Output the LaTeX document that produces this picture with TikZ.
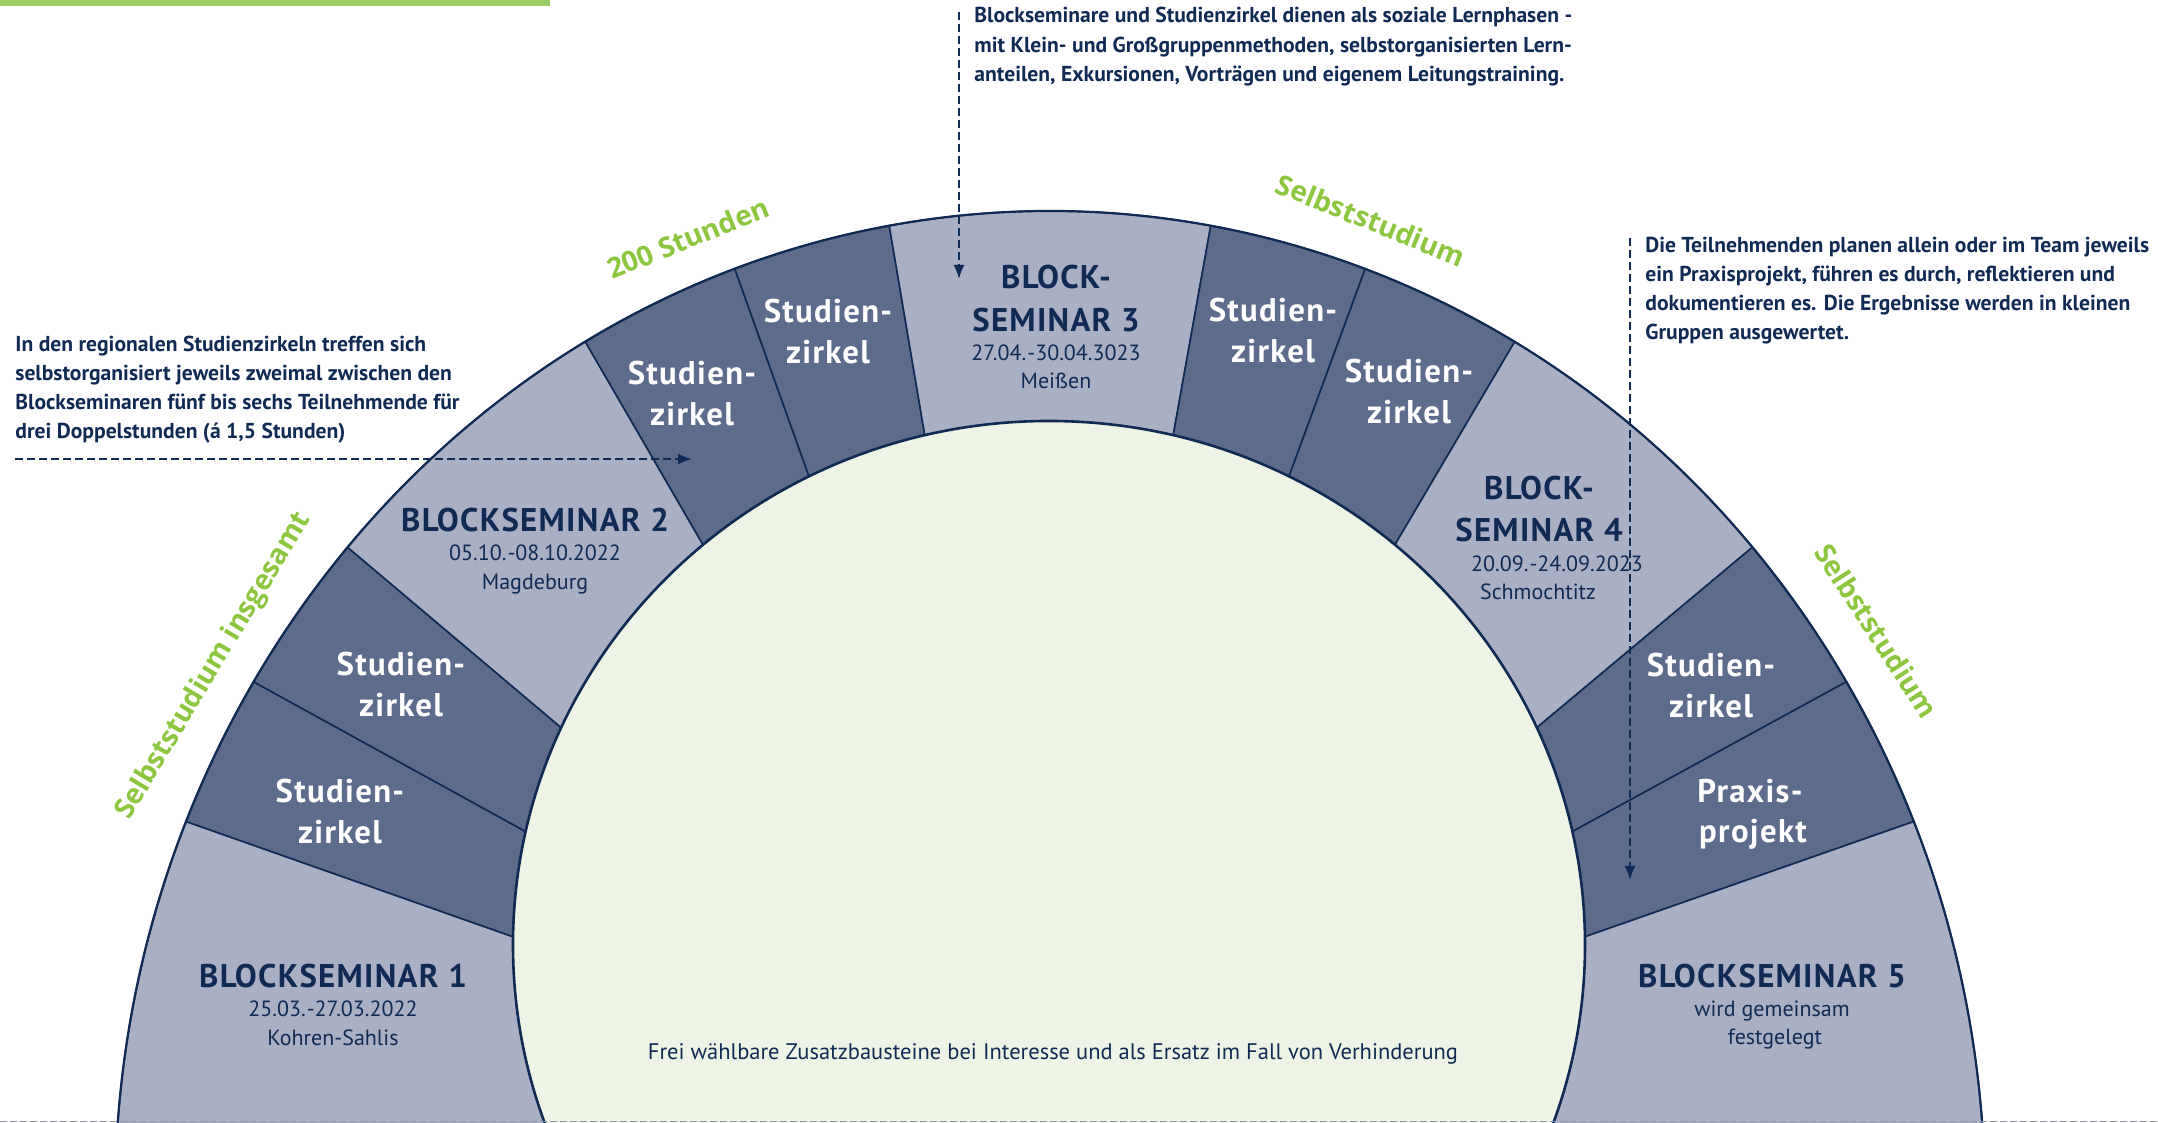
\documentclass[tikz,border=0pt]{standalone}
\usepackage{fontspec}
\setmainfont{PT Sans}
\newfontfamily\greenfont{Open Sans}
\usepackage{tikz}
\usetikzlibrary{arrows.meta}
\definecolor{navy}{HTML}{102A54}
\definecolor{segdark}{HTML}{5D6B8C}
\definecolor{seglight}{HTML}{A9AFC5}
\definecolor{innergreen}{HTML}{EDF3E5}
\definecolor{labelgreen}{HTML}{8DC63F}
\definecolor{bargreen}{HTML}{9BCB64}
\definecolor{dashgray}{HTML}{8E9AB5}
\tikzstyle{hintarrow} = [navy, line width=1pt, dash pattern=on 4pt off 2pt, -{Latex[length=7pt,width=5.5pt]}]

\begin{document}
\begin{tikzpicture}[x=0.5pt, y=0.5pt,
    every node/.style={inner sep=0pt, anchor=base},
    blocktitle/.style={text=navy, font=\bfseries\fontsize{16.4}{20}\selectfont\addfontfeatures{LetterSpace=4}},
    blockinfo/.style={text=navy, font=\fontsize{11}{14}\selectfont},
    zirkel/.style={text=white, font=\bfseries\fontsize{16.4}{20}\selectfont\addfontfeatures{LetterSpace=4}},
    hint/.style={text=navy, anchor=base west, font=\bfseries\fontsize{10.8}{14}\selectfont},
    greenlabel/.style={text=labelgreen, anchor=center, font=\greenfont\bfseries\fontsize{14}{16}\selectfont}]

    \useasboundingbox (0,0) rectangle (2158,1123);

    % centres of the two ellipses
    \coordinate (outerc) at (1050,-77);
    \coordinate (innerc) at (1049,178);

    \begin{scope}
        \clip (0,0) rectangle (2158,1123);

        % Draw the segments of the arch
        \foreach \col/\oa/\ob/\ia/\ib in {seglight/185/157.5/215/179.1, segdark/157.5/148.4/179.1/167.5,
                segdark/148.4/138.7/167.5/155.5, seglight/138.7/119.8/155.5/130.2,
                segdark/119.8/109.7/130.2/116.6, segdark/109.7/99.9/116.6/103.4,
                seglight/99.9/80.1/103.4/76.6, segdark/80.1/70.3/76.6/63.4,
                segdark/70.3/60.2/63.4/49.8, seglight/60.2/41.3/49.8/24.5,
                segdark/41.3/31.6/24.5/12.5, segdark/31.6/22.5/12.5/0.9,
                seglight/22.5/-5/0.9/-35} {
            \filldraw[fill=\col, draw=navy, line width=0.8pt]
                ([shift={(outerc)}]\oa:935 and 989) arc[start angle=\oa, end angle=\ob, x radius=935, y radius=989]
                -- ([shift={(innerc)}]\ib:536 and 524) arc[start angle=\ib, end angle=\ia, x radius=536, y radius=524]
                -- cycle;
        }

        % inner field and outer rim
        \filldraw[fill=innergreen, draw=navy, line width=1.3pt] (innerc) ellipse [x radius=536, y radius=524];
        \draw[navy, line width=1.1pt] ([shift={(outerc)}]185:935 and 989) arc[start angle=185, end angle=-5, x radius=935, y radius=989];
    \end{scope}

    % bars at top and bottom
    \fill[bargreen] (0,1117) rectangle (550,1123);
    \draw[dashgray, line width=0.7pt, dash pattern=on 3.3pt off 1.7pt] (0,1.5) -- (2158,1.5);

    % Define nodes: block seminars
    \node[blocktitle] (bs1) at (333,135) {BLOCKSEMINAR 1};
    \node[blockinfo] (bs1date) at (333,106) {25.03.\kern.5pt-27.03.2022};
    \node[blockinfo] (bs1place) at (333,77.5) {Kohren-Sahlis};

    \node[blocktitle] (bs2) at (535,591) {BLOCKSEMINAR 2};
    \node[blockinfo] (bs2date) at (535,562) {05.10.\kern.5pt-08.10.2022};
    \node[blockinfo] (bs2place) at (535,533) {Magdeburg};

    \node[blocktitle] (bs3a) at (1056,834) {BLOCK-};
    \node[blocktitle] (bs3b) at (1056,791) {SEMINAR 3};
    \node[blockinfo] (bs3date) at (1056,762) {27.04.\kern.5pt-30.04.3023};
    \node[blockinfo] (bs3place) at (1056,734) {Meißen};

    \node[blocktitle] (bs4a) at (1539,623) {BLOCK-};
    \node[blocktitle] (bs4b) at (1539,581) {SEMINAR 4};
    \node[blockinfo] (bs4date) at (1557,551) {20.09.\kern.5pt-24.09.2023};
    \node[blockinfo] (bs4place) at (1538,523) {Schmochtitz};

    \node[blocktitle] (bs5) at (1772,135) {BLOCKSEMINAR 5};
    \node[blockinfo] (bs5line) at (1772,106) {wird gemeinsam};
    \node[blockinfo] (bs5place) at (1775,78) {festgelegt};

    % study circles
    \foreach \n/\x/\y in {1/340/320, 2/401/447, 3/692/738, 4/828/800, 5/1273/801, 6/1409/740, 7/1711/446} {
        \node[zirkel] (zk\n-top) at (\x,\y) {Studien-};
        \node[zirkel] (zk\n-bot) at (\x,\y-41) {zirkel};
    }
    \node[zirkel] (praxis-top) at (1750,320) {Praxis-};
    \node[zirkel] (praxis-bot) at (1753,280) {projekt};

    \node[blockinfo, font=\fontsize{11.25}{14}\selectfont] (frei) at (1053,63) {Frei wählbare Zusatzbausteine bei Interesse und als Ersatz im Fall von Verhinderung};

    % green labels round the arch
    \node[greenlabel, rotate=59] (insgesamt) at (214,457) {Selbststudium insgesamt};
    \node[greenlabel, rotate=22] (stunden) at (688,885) {200 Stunden};
    \node[greenlabel, rotate=-22] (selbst1) at (1371,903) {Selbststudium};
    \node[greenlabel, rotate=-57] (selbst2) at (1877,492) {Selbststudium};

    % notes
    \node[hint] (top1) at (974,1100) {Blockseminare und Studienzirkel dienen als soziale Lernphasen -};
    \node[hint] (top2) at (974,1070) {mit Klein- und Großgruppenmethoden, selbstorganisierten Lern-};
    \node[hint] (top3) at (974,1041) {anteilen, Exkursionen, Vorträgen und eigenem Leitungstraining.};

    \node[hint] (left1) at (15,771) {In den regionalen Studienzirkeln treffen sich};
    \node[hint] (left2) at (15,742) {selbstorganisiert jeweils zweimal zwischen den};
    \node[hint] (left3) at (15,713) {Blockseminaren fünf bis sechs Teilnehmende für};
    \node[hint] (left4) at (15,684) {drei Doppelstunden (á 1,5 Stunden)};

    \node[hint] (right1) at (1645,870) {Die Teilnehmenden planen allein oder im Team jeweils};
    \node[hint] (right2) at (1645,841) {ein Praxisprojekt, führen es durch, reflektieren und};
    \node[hint] (right3) at (1645,812) {dokumentieren es. Die Ergebnisse werden in kleinen};
    \node[hint] (right4) at (1645,783) {Gruppen ausgewertet.};

    % Draw dashed pointers
    \coordinate (topstart) at (959,1111);
    \coordinate (topend) at (959,844);
    \coordinate (leftstart) at (15,664);
    \coordinate (leftend) at (692,664);
    \coordinate (rightstart) at (1630,885);
    \coordinate (rightend) at (1630,243);
    \foreach \X/\Y in {topstart/topend, leftstart/leftend, rightstart/rightend} {
        \draw[hintarrow] (\X) -- (\Y);
    }

\end{tikzpicture}
\end{document}
